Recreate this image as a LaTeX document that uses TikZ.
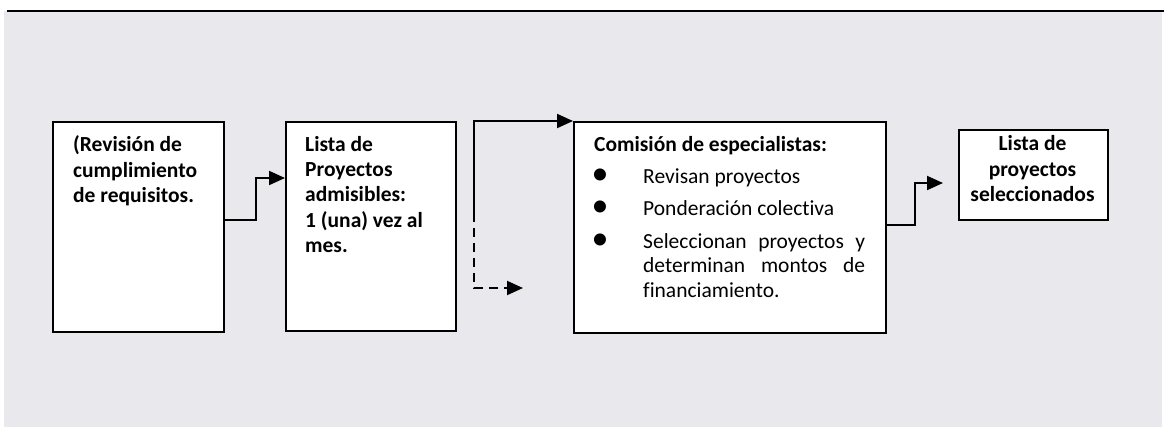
\documentclass[tikz,border=0pt]{standalone}
\usepackage{fontspec}
\setmainfont[Ligatures=NoCommon]{Carlito}
\usetikzlibrary{arrows.meta}
\definecolor{bggray}{HTML}{E9E9ED}
\tikzset{
  box/.style={draw=black, line width=2pt, fill=white, inner sep=0pt, anchor=north west},
  txt/.style={anchor=base west, inner sep=0pt, font=\fontsize{21.5}{25.3}\selectfont\bfseries, align=left},
  plain/.style={anchor=base west, inner sep=0pt, font=\fontsize{21.5}{24.5}\selectfont},
  bul/.style={anchor=center, inner sep=0pt, font=\fontsize{34}{34}\selectfont},
  arr/.style={line width=2pt, -{Triangle[length=16pt,width=14pt]}},
  dasharr/.style={arr, dash pattern=on 9pt off 6pt},
}
\begin{document}
\begin{tikzpicture}[x=1pt,y=-1pt]
\useasboundingbox (0,0) rectangle (1164,429);
\fill[white] (0,0) rectangle (1164,429);
\fill[bggray] (4,11) rectangle (1162,427);
\draw[line width=2.4pt] (7,11) -- (1164,11);

% boxes
\node[box, minimum width=171pt, minimum height=210pt] (b1) at (52,121) {};
\node[box, minimum width=170pt, minimum height=209pt] (b2) at (285,121) {};
\node[box, minimum width=312pt, minimum height=211pt] (b3) at (573,121) {};
\node[box, minimum width=149pt, minimum height=90pt] (b4) at (958,129) {};

% texts
\node[txt] (t1) at (73,151.7) {\parbox[t]{140pt}{\raggedright\fontsize{21.5}{25.3}\selectfont\bfseries (Revisión de\\cumplimiento\\de requisitos.}};
\node[txt] (t2) at (305,151.7) {\parbox[t]{150pt}{\raggedright\fontsize{21.5}{25.1}\selectfont\bfseries Lista de\\Proyectos\\admisibles:\\1 (una) vez al\\mes.}};
\node[txt] (t3) at (594,151) {Comisión de especialistas:};
\node[bul] (k1) at (600,177) {\textbullet};
\node[bul] (k2) at (600,209) {\textbullet};
\node[bul] (k3) at (600,242) {\textbullet};
\node[plain] (p1) at (643,183) {Revisan proyectos};
\node[plain] (p2) at (643,215) {Ponderación colectiva};
\node[plain] (p3) at (643,248) {\parbox[t]{222pt}{\fontsize{21.5}{24.5}\selectfont\hyphenpenalty=10000 \exhyphenpenalty=10000 \tolerance=9999 \parfillskip=0pt plus 1fil Seleccionan proyectos y determinan montos de financiamiento.}};
\node[anchor=base, inner sep=0pt] (t4) at (1032.5,150.7) {\parbox[t]{145pt}{\centering\fontsize{21.5}{25.5}\selectfont\bfseries Lista de\\proyectos\\seleccionados}};

% connectors
\coordinate (j) at (474,213);
\coordinate (dend) at (523,288);
\draw[arr] (b1.east |- 0,220) -- (256,220) -- (256,178) -- (b2.west |- 0,178);
\draw[arr] (j) -- (474,121) -- (b3.north west);
\draw[dasharr] (j) -- (474,288) -- (dend);
\draw[arr, shorten >=15pt] (b3.east |- 0,225) -- (915,225) -- (915,183) -- (b4.west |- 0,183);
\end{tikzpicture}
\end{document}
